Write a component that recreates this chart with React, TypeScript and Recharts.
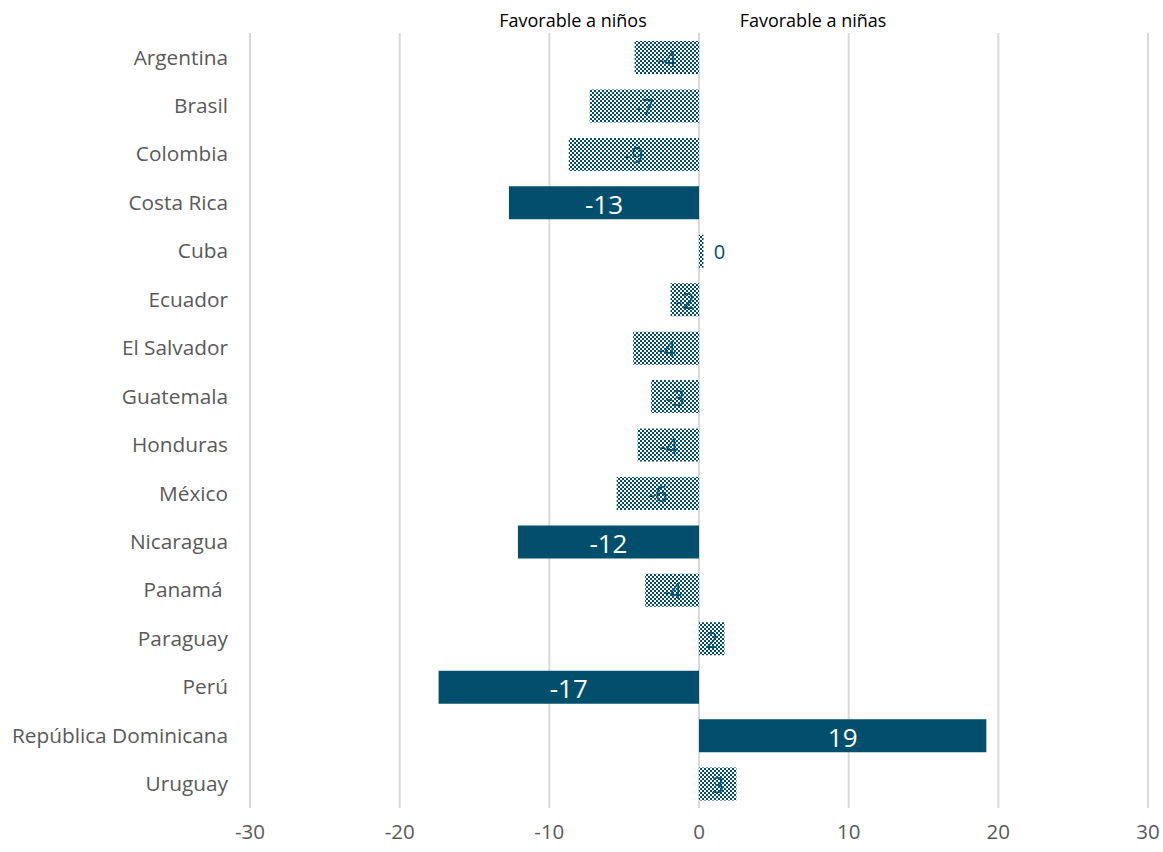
import React from 'react';
import { Bar, BarChart, CartesianGrid, Cell, LabelList, XAxis, YAxis } from 'recharts';

const countries = [
  'Argentina', 'Brasil', 'Colombia', 'Costa Rica', 'Cuba', 'Ecuador', 'El Salvador', 'Guatemala',
  'Honduras', 'México', 'Nicaragua', 'Panamá\u00a0', 'Paraguay', 'Perú', 'República Dominicana', 'Uruguay',
];
const gaps = [-4.3, -7.3, -8.7, -12.7, 0.3, -1.9, -4.4, -3.2, -4.1, -5.5, -12.1, -3.6, 1.7, -17.4, 19.2, 2.5];
const gapLabels = [-4, -7, -9, -13, 0, -2, -4, -3, -4, -6, -12, -4, 2, -17, 19, 3];
const significant = [false, false, false, true, false, false, false, false, false, false, true, false, false, true, true, false];
const xTicks = [-30, -20, -10, 0, 10, 20, 30];

const data = countries.map((country, i) => ({
  country,
  gap: gaps[i],
  label: gapLabels[i],
  sig: significant[i],
}));

const BLUE = '#024f6d';
const FONT = '"Open Sans", "Liberation Sans", sans-serif';

const BarLabel = (props: any) => {
  const { x, y, width, height, index } = props;
  const d = data[index];
  const cy = y + height / 2;
  if (Math.abs(d.gap) < 1) {
    return (
      <text x={x + width + 16} y={cy} textAnchor="middle" dominantBaseline="central" fill={BLUE} fontSize={20} fontFamily={FONT}>
        {d.label}
      </text>
    );
  }
  return (
    <text
      x={x + width / 2}
      y={cy + 1}
      textAnchor="middle"
      dominantBaseline="central"
      fill={d.sig ? '#fff' : BLUE}
      fontSize={d.sig ? 26 : 21}
      fontFamily={FONT}
    >
      {d.label}
    </text>
  );
};

const App = () => {
  return (
    <div style={{ position: 'absolute', left: 0, top: 0, width: 1163, height: 852, background: '#fff' }}>
      <BarChart
        width={1163}
        height={852}
        data={data}
        layout="vertical"
        margin={{ top: 33, right: 15, left: 0, bottom: 0 }}
        barCategoryGap={0}
      >
        <defs>
          <pattern id="checker" width="4" height="4" patternUnits="userSpaceOnUse">
            <rect width="4" height="4" fill="#fff" />
            <rect width="2" height="2" fill={BLUE} />
            <rect x="2" y="2" width="2" height="2" fill={BLUE} />
          </pattern>
        </defs>
        <CartesianGrid horizontal={false} stroke="#d9d9d9" strokeWidth={2} />
        <XAxis
          type="number"
          domain={[-30, 30]}
          ticks={xTicks}
          axisLine={false}
          tickLine={false}
          tickSize={0}
          tickMargin={16}
          height={44}
          tick={{ fill: '#595959', fontSize: 20.5, fontFamily: FONT }}
        />
        <YAxis
          type="category"
          dataKey="country"
          width={250}
          axisLine={false}
          tickLine={false}
          tickSize={0}
          tickMargin={22}
          interval={0}
          tick={{ fill: '#595959', fontSize: 20.8, fontFamily: FONT }}
        />
        <Bar dataKey="gap" barSize={33} isAnimationActive={false}>
          {data.map((d, i) => (
            <Cell key={i} fill={d.sig ? BLUE : 'url(#checker)'} />
          ))}
          <LabelList dataKey="label" content={<BarLabel />} />
        </Bar>
      </BarChart>
      <div style={{ position: 'absolute', left: 573, top: 8, transform: 'translateX(-50%)', fontFamily: FONT, fontSize: 18, color: '#000', whiteSpace: 'nowrap' }}>
        Favorable a niños
      </div>
      <div style={{ position: 'absolute', left: 813, top: 8, transform: 'translateX(-50%)', fontFamily: FONT, fontSize: 18, color: '#000', whiteSpace: 'nowrap' }}>
        Favorable a niñas
      </div>
    </div>
  );
};

export default App;
